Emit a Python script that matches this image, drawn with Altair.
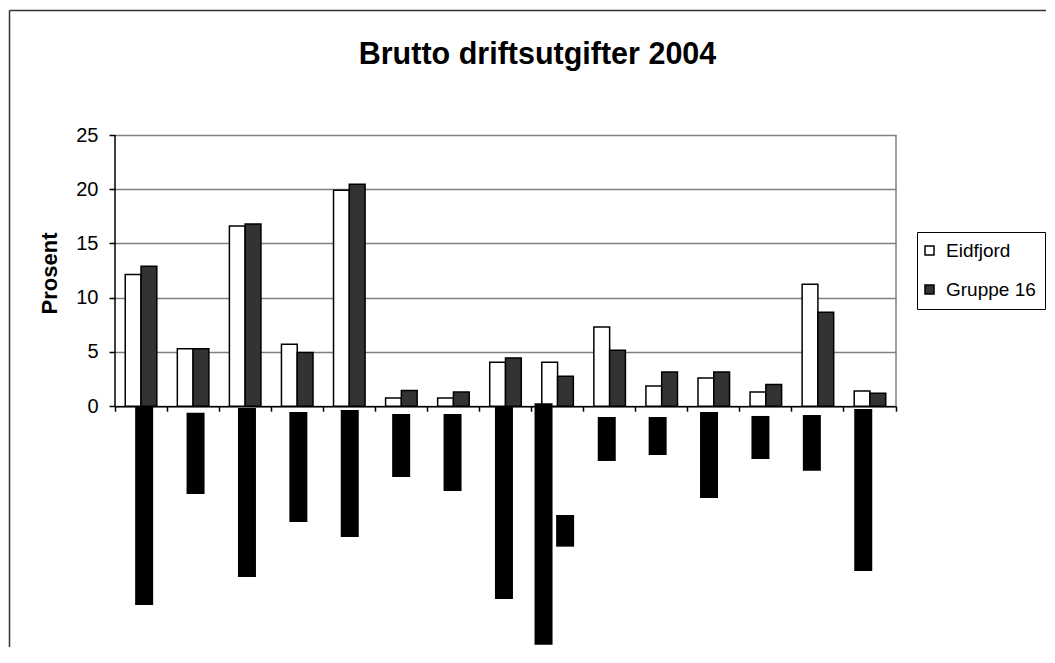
import altair as alt
import pandas as pd

# ---------------- data ----------------
categories = [
    "Administrasjon og styring", "Barnehage", "Grunnskule", "Kommunehelse",
    "Pleie og omsorg", "Sosialteneste", "Barnevern", "Vatn, avløp, renovasjon",
    "Fysisk planlegging, kulturminne, natur og nærmiljø", "Kultur", "Kyrkje",
    "Samferdsel", "Bustad", "Næring", "Brann og ulukkesvern",
]
series = ["Eidfjord", "Gruppe 16"]
eidfjord = [12.15, 5.3, 16.6, 5.7, 19.9, 0.75, 0.75, 4.05, 4.05, 7.3, 1.85, 2.6, 1.3, 11.25, 1.4]
gruppe16 = [12.9, 5.3, 16.8, 4.95, 20.45, 1.45, 1.3, 4.45, 2.75, 5.15, 3.15, 3.15, 2.0, 8.65, 1.2]
y_ticks = [0, 5, 10, 15, 20, 25]

# category-axis labels, rendered in the source as solid black blocks
label_center = [0.47, 1.47, 2.47, 3.47, 4.47, 5.47, 6.47, 7.47, 8.24, 8.66, 9.47, 10.46, 11.46, 12.46, 13.46, 14.46]
label_top = [-0.07, -0.6, -0.17, -0.53, -0.35, -0.72, -0.72, -0.05, 0.27, -10.03, -1.0, -1.0, -0.53, -0.9, -0.81, -0.26]
label_bottom = [-18.33, -8.1, -15.75, -10.67, -12.06, -6.53, -7.82, -17.77, -22.0, -12.95, -5.05, -4.5, -8.46, -4.87, -5.95, -15.19]

# ---------------- layout ----------------
PLOT_W = 781
PLOT_H = 512
Y_MIN, Y_MAX = -22.2, 25
PAD = {"left": 107, "top": 127, "right": 150, "bottom": 0}
FONT = "Liberation Sans"
zero_shift = -(0 - Y_MIN) * PLOT_H / (Y_MAX - Y_MIN)

rows = []
for i, c in enumerate(categories):
    rows.append({"category": c, "series": series[0], "value": eidfjord[i]})
    rows.append({"category": c, "series": series[1], "value": gruppe16[i]})
df = pd.DataFrame(rows)
lab_df = pd.DataFrame({"center": label_center, "top": label_top, "bottom": label_bottom})

y_scale = alt.Scale(domain=[Y_MIN, Y_MAX], nice=False)


def y_axis():
    return alt.Axis(
        values=y_ticks, grid=True, gridColor="#808080", gridWidth=1.5,
        domain=False, ticks=True, tickColor="black", tickSize=6, tickWidth=1.5,
        labels=True, labelFont=FONT, labelFontSize=20, labelColor="black",
        labelPadding=11,
        title="Prosent", titleFont=FONT, titleFontSize=22, titleFontWeight="bold",
        titleColor="black", titleAngle=270, titleAlign="center",
        titleBaseline="middle", titleX=-66, titleY=138, orient="left",
    )


x_axis = alt.Axis(
    labels=False, title=None, bandPosition=1, tickExtra=True, ticks=True,
    tickSize=5, tickColor="black", tickWidth=1.5, domainColor="black",
    domainWidth=1.5, offset=zero_shift, grid=False,
)

bars = alt.Chart(df).mark_bar(stroke="black", strokeWidth=1.5).encode(
    x=alt.X("category:N", sort=categories,
            scale=alt.Scale(paddingInner=0, paddingOuter=0), axis=x_axis),
    xOffset=alt.XOffset("series:N", sort=series,
                        scale=alt.Scale(paddingOuter=0.65, paddingInner=0)),
    y=alt.Y("value:Q", scale=y_scale, axis=y_axis(), stack=None),
    fill=alt.Fill("series:N", sort=series,
                  scale=alt.Scale(domain=series, range=["#ffffff", "#333333"]),
                  legend=alt.Legend(
                      title=None, orient="none", legendX=802, legendY=97,
                      strokeColor="black", fillColor="white", padding=9,
                      symbolType="square", symbolSize=81, symbolOffset=-6,
                      symbolStrokeColor="black", symbolStrokeWidth=1.5,
                      labelFont=FONT, labelFontSize=19, labelColor="black",
                      rowPadding=19, labelOffset=7)),
)

labels = alt.Chart(lab_df).mark_bar(color="black", width=18).encode(
    x=alt.X("center:Q", scale=alt.Scale(domain=[0, len(categories)], nice=False, zero=False), axis=None),
    y=alt.Y("top:Q", scale=y_scale, axis=y_axis()),
    y2=alt.Y2("bottom:Q"),
)

one = pd.DataFrame({"k": [0]})
left_axis = alt.Chart(one).mark_rule(color="black", strokeWidth=1.5).encode(
    x=alt.value(0),
    y=alt.Y(datum=0, type="quantitative", scale=y_scale, axis=y_axis()),
    y2=alt.Y2(datum=25),
)
right_border = alt.Chart(one).mark_rule(color="#808080", strokeWidth=1.5).encode(
    x=alt.value(PLOT_W),
    y=alt.Y(datum=0, type="quantitative", scale=y_scale, axis=y_axis()),
    y2=alt.Y2(datum=25),
)
frame_top = alt.Chart(one).mark_rule(color="#333333", strokeWidth=1.5).encode(
    x=alt.value(-105.5), x2=alt.value(PLOT_W + PAD["right"]), y=alt.value(-124.5)
)
frame_left = alt.Chart(one).mark_rule(color="#333333", strokeWidth=1.5).encode(
    x=alt.value(-105.5), y=alt.value(-124.5), y2=alt.value(PLOT_H)
)

chart = alt.layer(
    bars, labels, right_border, left_axis, frame_top, frame_left
).resolve_scale(x="independent").properties(
    width=PLOT_W, height=PLOT_H,
    autosize=alt.AutoSizeParams(type="none"),
    padding=PAD,
    title=alt.TitleParams(
        "Brutto driftsutgifter 2004", font=FONT, fontSize=30.5, fontWeight="bold",
        color="black", anchor="middle", frame="group", dx=32, offset=-85,
        baseline="alphabetic",
    ),
).configure_view(strokeWidth=0)

chart.save("out.html", embed_options={"renderer": "svg", "actions": False})
